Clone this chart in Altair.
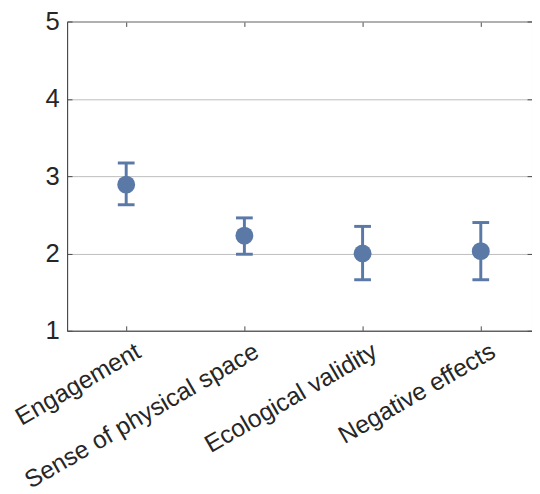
import json
import altair as alt
import pandas as pd

# ---- data ----
categories = ["Engagement", "Sense of physical space", "Ecological validity", "Negative effects"]
positions = [1, 2, 3, 4]
means = [2.89, 2.23, 2.00, 2.03]
lower = [2.63, 1.99, 1.66, 1.66]
upper = [3.17, 2.46, 2.35, 2.40]
y_ticks = [1, 2, 3, 4, 5]

df = pd.DataFrame({"pos": positions, "cat": categories, "mean": means, "lo": lower, "hi": upper})

W, H = 472, 314
PX_PER_UNIT = 120
TICK = 5
COLOR = "#5a79a7"
AXIS_COLOR = "#4a4a4a"
TEXT_COLOR = "#262626"
FONT = "Liberation Sans"

xscale = alt.Scale(domain=[0.5, 0.5 + W / PX_PER_UNIT], nice=False, zero=False)
yscale = alt.Scale(domain=[1, 5], nice=False, zero=False)

label_expr = json.dumps(categories) + "[datum.value - 1]"

# bottom axis with rotated labels
x_bottom = alt.Axis(orient="bottom", values=positions, labelExpr=label_expr, labelAngle=330,
                    labelAlign="right", labelBaseline="top", labelPadding=8, labelOffset=6,
                    ticks=False, domain=True, domainColor=AXIS_COLOR, domainWidth=1,
                    grid=False, labelFontSize=25, labelFont=FONT, labelColor=TEXT_COLOR,
                    title=None, labelOverlap=False, labelFlush=False, labelLimit=0)
# inward ticks at top and bottom drawn as dashed grid lines
x_inward = alt.Axis(orient="top", values=positions, labels=False, ticks=False, domain=False,
                    grid=True, gridColor=AXIS_COLOR, gridWidth=1, gridOpacity=1,
                    gridDash=[TICK, H - 2 * TICK], title=None)
# left axis with labels and light grid
y_left = alt.Axis(orient="left", values=y_ticks, ticks=False, domain=True, domainColor=AXIS_COLOR,
                  grid=True, gridColor="#bdbdbd", gridWidth=1, labelFontSize=26, labelFont=FONT,
                  labelColor=TEXT_COLOR, labelPadding=8, title=None, labelFlush=False)
# inward ticks on the left
y_inward = alt.Axis(orient="right", values=y_ticks, labels=False, ticks=False, domain=False,
                    grid=True, gridColor=AXIS_COLOR, gridWidth=1, gridOpacity=1,
                    gridDash=[TICK, W - 2 * TICK], title=None)

base = alt.Chart(df)

bars = base.mark_rule(color=COLOR, strokeWidth=3).encode(
    x=alt.X("pos:Q", scale=xscale, axis=x_bottom),
    y=alt.Y("lo:Q", scale=yscale, axis=y_left),
    y2="hi:Q",
)
cap_hi = base.mark_tick(color=COLOR, orient="horizontal", size=17, thickness=3, opacity=1).encode(
    x=alt.X("pos:Q", scale=xscale, axis=x_inward),
    y=alt.Y("hi:Q", scale=yscale, axis=y_inward),
)
cap_lo = base.mark_tick(color=COLOR, orient="horizontal", size=17, thickness=3, opacity=1).encode(
    x=alt.X("pos:Q", scale=xscale, axis=None),
    y=alt.Y("lo:Q", scale=yscale, axis=None),
)
points = base.mark_circle(color=COLOR, size=330, opacity=1).encode(
    x=alt.X("pos:Q", scale=xscale, axis=None),
    y=alt.Y("mean:Q", scale=yscale, axis=None),
)

chart = alt.layer(bars, cap_hi, cap_lo, points).resolve_axis(
    x="independent", y="independent"
).properties(
    width=W, height=H,
    autosize=alt.AutoSizeParams(type="none"),
    padding={"left": 60, "top": 10, "right": 0, "bottom": 162},
).configure_view(stroke=AXIS_COLOR, strokeWidth=1)

chart.save("out.html", embed_options={"renderer": "svg", "actions": False})
